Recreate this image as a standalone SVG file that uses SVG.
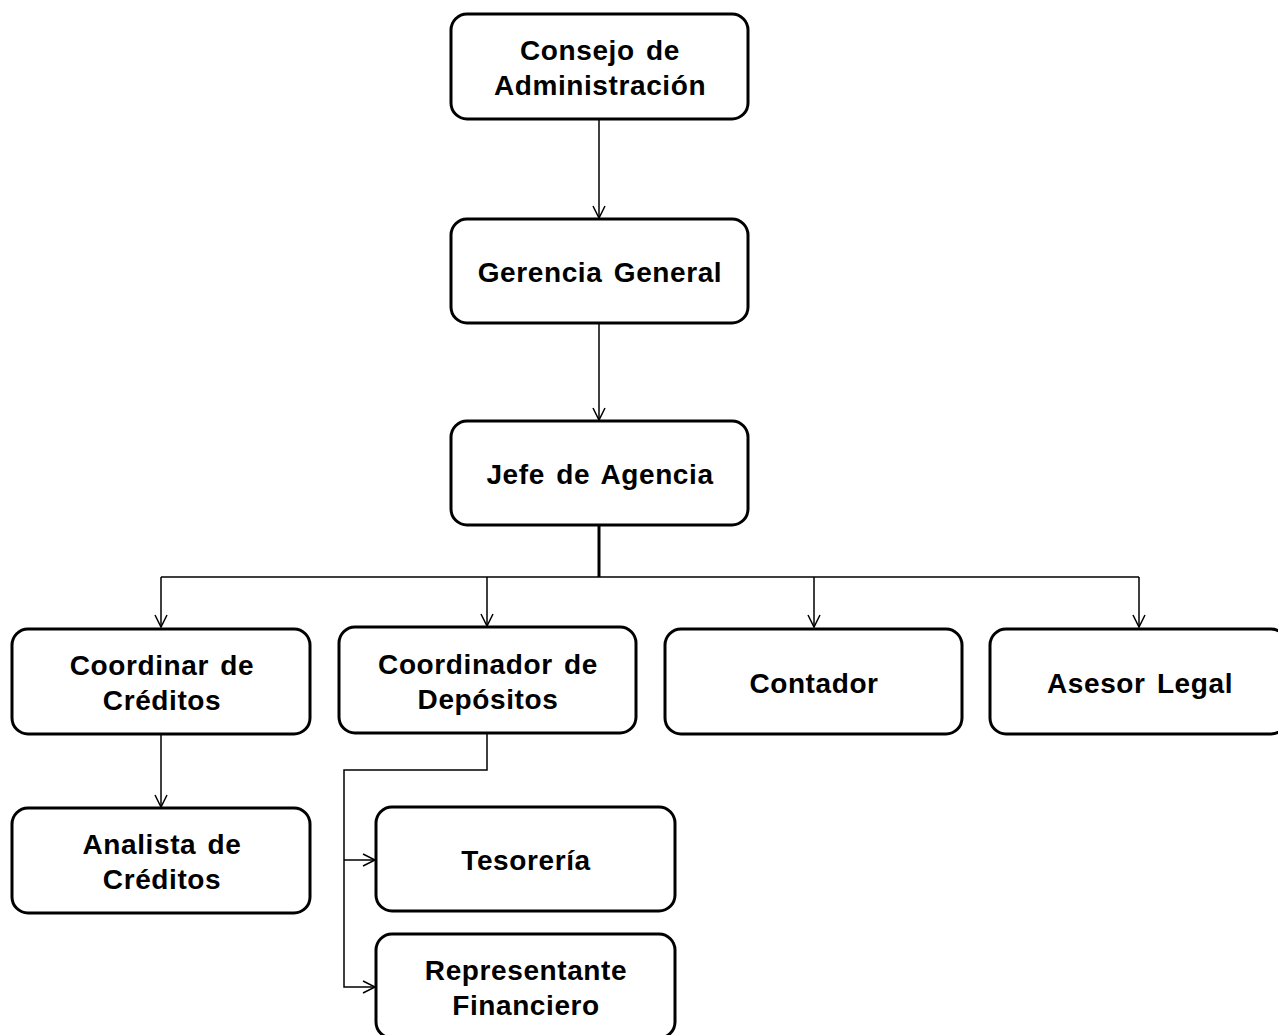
<svg xmlns="http://www.w3.org/2000/svg" width="1278" height="1035" viewBox="0 0 1278 1035">
<style>
.box{fill:#fff;stroke:#000;stroke-width:3}
.t{font-family:"Liberation Sans",Arial,sans-serif;font-weight:bold;font-size:28px;letter-spacing:0.6px;word-spacing:3px;fill:#000;text-anchor:middle}
.c{fill:none;stroke:#000;stroke-width:1.5}
.a{fill:none;stroke:#000;stroke-width:1.5}
</style>
<rect width="1278" height="1035" fill="#fff"/>
<g id="connectors">
<path class="c" d="M599 119V218"/>
<path class="a" d="M593 206L599 218L605 206"/>
<path class="c" d="M599 323V420"/>
<path class="a" d="M593 408L599 420L605 408"/>
<path d="M599 525V577" fill="none" stroke="#000" stroke-width="3"/>
<path class="c" d="M161 577H1139M161 577V627M487 577V626M814 577V627M1139 577V627"/>
<path class="a" d="M155 615L161 627L167 615M481 614L487 626L493 614M808 615L814 627L820 615M1133 615L1139 627L1145 615"/>
<path class="c" d="M161 735V807"/>
<path class="a" d="M155 795L161 807L167 795"/>
<path class="c" d="M487 733V770H344V987H375M344 860H375"/>
<path class="a" d="M363 854L375 860L363 866M363 981L375 987L363 993"/>
</g>
<g id="n1"><rect class="box" x="451" y="14" width="297" height="105" rx="16"/><text class="t" x="600" y="60">Consejo de</text><text class="t" x="600" y="95">Administración</text></g>
<g id="n2"><rect class="box" x="451" y="219" width="297" height="104" rx="16"/><text class="t" x="600" y="282">Gerencia General</text></g>
<g id="n3"><rect class="box" x="451" y="421" width="297" height="104" rx="16"/><text class="t" x="600" y="484">Jefe de Agencia</text></g>
<g id="n4"><rect class="box" x="12" y="629" width="298" height="105" rx="16"/><text class="t" x="162" y="675">Coordinar de</text><text class="t" x="162" y="710">Créditos</text></g>
<g id="n5"><rect class="box" x="339" y="627" width="297" height="106" rx="16"/><text class="t" x="488" y="674">Coordinador de</text><text class="t" x="488" y="709">Depósitos</text></g>
<g id="n6"><rect class="box" x="665" y="629" width="297" height="105" rx="16"/><text class="t" x="814" y="693">Contador</text></g>
<g id="n7"><rect class="box" x="990" y="629" width="297" height="105" rx="16"/><text class="t" x="1140" y="693">Asesor Legal</text></g>
<g id="n8"><rect class="box" x="12" y="808" width="298" height="105" rx="16"/><text class="t" x="162" y="854">Analista de</text><text class="t" x="162" y="889">Créditos</text></g>
<g id="n9"><rect class="box" x="376" y="807" width="299" height="104" rx="16"/><text class="t" x="526" y="870">Tesorería</text></g>
<g id="n10"><rect class="box" x="376" y="934" width="299" height="104" rx="16"/><text class="t" x="526" y="980">Representante</text><text class="t" x="526" y="1015">Financiero</text></g>
</svg>
